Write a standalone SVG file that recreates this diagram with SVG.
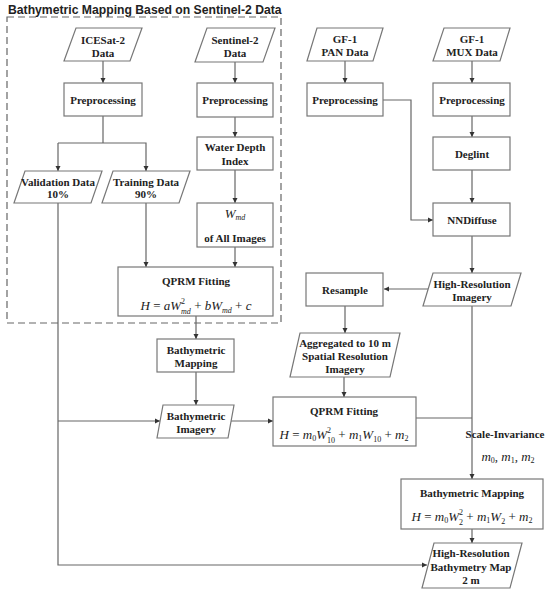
<svg xmlns="http://www.w3.org/2000/svg" width="550" height="593" viewBox="0 0 550 593">
<style>
.t{font-family:"Liberation Serif","Times New Roman",serif;font-weight:bold;font-size:11px;fill:#222;text-anchor:middle}
.m{font-family:"Liberation Serif","Times New Roman",serif;font-size:13px;fill:#222;text-anchor:middle}
.i{font-style:italic}
.b{fill:#fff;stroke:#777;stroke-width:1.2}
.c{fill:none;stroke:#666;stroke-width:1.2}
.title{font-family:"Liberation Sans",Arial,sans-serif;font-weight:bold;font-size:12.2px;fill:#222}
</style>
<defs>
<marker id="a" markerUnits="userSpaceOnUse" markerWidth="6" markerHeight="6" refX="5" refY="3" orient="auto">
<path d="M0,0.5 L5,3 L0,5.5 z" fill="#333"/>
</marker>
</defs>
<rect width="550" height="593" fill="#fff"/>
<text class="title" x="8" y="14">Bathymetric Mapping Based on Sentinel-2 Data</text>
<rect x="7" y="17" width="274" height="306" fill="none" stroke="#666" stroke-width="1.2" stroke-dasharray="7,4"/>

<g id="connectors">
<line class="c" x1="103" y1="61" x2="103" y2="83" marker-end="url(#a)"/>
<line class="c" x1="235" y1="62" x2="235" y2="83" marker-end="url(#a)"/>
<line class="c" x1="345" y1="61" x2="345" y2="83" marker-end="url(#a)"/>
<line class="c" x1="472" y1="61" x2="472" y2="83" marker-end="url(#a)"/>
<polyline class="c" points="103,116 103,143"/>
<polyline class="c" points="58,143 58,171" marker-end="url(#a)"/>
<polyline class="c" points="58,143 146,143 146,171" marker-end="url(#a)"/>
<line class="c" x1="235" y1="117" x2="235" y2="137" marker-end="url(#a)"/>
<line class="c" x1="235" y1="170" x2="235" y2="203" marker-end="url(#a)"/>
<line class="c" x1="235" y1="247" x2="235" y2="267" marker-end="url(#a)"/>
<line class="c" x1="146" y1="203" x2="146" y2="267" marker-end="url(#a)"/>
<line class="c" x1="196" y1="316" x2="196" y2="339" marker-end="url(#a)"/>
<line class="c" x1="196" y1="372" x2="196" y2="405" marker-end="url(#a)"/>
<polyline class="c" points="58,203 58,565 427,565" marker-end="url(#a)"/>
<line class="c" x1="58" y1="421" x2="160" y2="421" marker-end="url(#a)"/>
<line class="c" x1="231" y1="421" x2="273" y2="421" marker-end="url(#a)"/>
<line class="c" x1="472" y1="116" x2="472" y2="137" marker-end="url(#a)"/>
<line class="c" x1="472" y1="170" x2="472" y2="203" marker-end="url(#a)"/>
<polyline class="c" points="383,100 411,100 411,220 433,220" marker-end="url(#a)"/>
<line class="c" x1="472" y1="236" x2="472" y2="273" marker-end="url(#a)"/>
<line class="c" x1="428" y1="289" x2="384" y2="289" marker-end="url(#a)"/>
<line class="c" x1="345" y1="306" x2="345" y2="333" marker-end="url(#a)"/>
<line class="c" x1="344" y1="377" x2="344" y2="397" marker-end="url(#a)"/>
<line class="c" x1="472" y1="306" x2="472" y2="479" marker-end="url(#a)"/>
<line class="c" x1="416" y1="418" x2="472" y2="418"/>
<line class="c" x1="472" y1="529" x2="472" y2="543" marker-end="url(#a)"/>
<text class="t" x="505" y="438" font-size="10">Scale-Invariance</text>
<text class="m" x="508" y="461" font-size="11"><tspan class="i">m</tspan><tspan font-size="8" dy="2">0</tspan><tspan dy="-2">, </tspan><tspan class="i">m</tspan><tspan font-size="8" dy="2">1</tspan><tspan dy="-2">, </tspan><tspan class="i">m</tspan><tspan font-size="8" dy="2">2</tspan></text>
</g>

<g id="icesat">
<polygon class="b" points="76,28 142,28 130,61 64,61"/>
<text class="t" x="103" y="44">ICESat-2</text>
<text class="t" x="103" y="57">Data</text>
</g>
<g id="sentinel">
<polygon class="b" points="207,28 275,28 263,62 195,62"/>
<text class="t" x="235" y="44">Sentinel-2</text>
<text class="t" x="235" y="57">Data</text>
</g>
<g id="prep-icesat">
<rect class="b" x="64" y="83" width="78" height="33"/>
<text class="t" x="103" y="104">Preprocessing</text>
</g>
<g id="prep-sentinel">
<rect class="b" x="197" y="83" width="76" height="34"/>
<text class="t" x="235" y="104">Preprocessing</text>
</g>
<g id="wdi">
<rect class="b" x="197" y="137" width="76" height="33"/>
<text class="t" x="235" y="151">Water Depth</text>
<text class="t" x="235" y="165">Index</text>
</g>
<g id="validation">
<polygon class="b" points="25,171 102,171 91,203 14,203"/>
<text class="t" x="58" y="186">Validation Data</text>
<text class="t" x="58" y="198">10%</text>
</g>
<g id="training">
<polygon class="b" points="113,171 190,171 179,203 102,203"/>
<text class="t" x="146" y="186">Training Data</text>
<text class="t" x="146" y="198">90%</text>
</g>
<g id="wmd">
<rect class="b" x="197" y="203" width="76" height="44"/>
<text class="m" x="235" y="218" font-size="12"><tspan class="i">W</tspan><tspan class="i" font-size="8" dy="2">md</tspan></text>
<text class="t" x="235" y="242">of  All Images</text>
</g>
<g id="qprm1">
<rect class="b" x="118" y="267" width="155" height="49"/>
<text class="t" x="196" y="285">QPRM Fitting</text>
<text class="m" x="196" y="310"><tspan class="i">H</tspan> = <tspan class="i">aW</tspan><tspan font-size="8" dy="-6">2</tspan><tspan class="i" font-size="8" dx="-4" dy="10">md</tspan><tspan dy="-4"> + </tspan><tspan class="i">bW</tspan><tspan class="i" font-size="8" dy="3">md</tspan><tspan dy="-3"> + </tspan><tspan class="i">c</tspan></text>
</g>
<g id="bm1">
<rect class="b" x="157" y="339" width="77" height="33"/>
<text class="t" x="196" y="354">Bathymetric</text>
<text class="t" x="196" y="367">Mapping</text>
</g>
<g id="bi">
<polygon class="b" points="163,405 234,405 228,438 157,438"/>
<text class="t" x="196" y="420">Bathymetric</text>
<text class="t" x="196" y="433">Imagery</text>
</g>
<g id="pan">
<polygon class="b" points="317,28 383,28 373,61 307,61"/>
<text class="t" x="345" y="43">GF-1</text>
<text class="t" x="345" y="56">PAN Data</text>
</g>
<g id="mux">
<polygon class="b" points="444,28 510,28 500,61 433,61"/>
<text class="t" x="472" y="43">GF-1</text>
<text class="t" x="472" y="56">MUX Data</text>
</g>
<g id="prep-pan">
<rect class="b" x="307" y="83" width="76" height="33"/>
<text class="t" x="345" y="104">Preprocessing</text>
</g>
<g id="prep-mux">
<rect class="b" x="433" y="83" width="77" height="33"/>
<text class="t" x="472" y="104">Preprocessing</text>
</g>
<g id="deglint">
<rect class="b" x="433" y="137" width="77" height="33"/>
<text class="t" x="472" y="158">Deglint</text>
</g>
<g id="nnd">
<rect class="b" x="433" y="203" width="77" height="33"/>
<text class="t" x="472" y="224">NNDiffuse</text>
</g>
<g id="hri">
<polygon class="b" points="433,273 521,273 511,306 423,306"/>
<text class="t" x="472" y="288">High-Resolution</text>
<text class="t" x="472" y="301">Imagery</text>
</g>
<g id="resample">
<rect class="b" x="306" y="273" width="77" height="33"/>
<text class="t" x="345" y="294">Resample</text>
</g>
<g id="agg">
<polygon class="b" points="300,333 400,333 390,377 290,377"/>
<text class="t" x="345" y="347">Aggregated to 10 m</text>
<text class="t" x="345" y="360">Spatial Resolution</text>
<text class="t" x="345" y="373">Imagery</text>
</g>
<g id="qprm2">
<rect class="b" x="273" y="397" width="143" height="49"/>
<text class="t" x="344" y="415">QPRM Fitting</text>
<text class="m" x="344" y="439"><tspan class="i">H</tspan> = <tspan class="i">m</tspan><tspan font-size="8" dy="2">0</tspan><tspan class="i" dy="-2">W</tspan><tspan font-size="8" dy="-6">2</tspan><tspan font-size="8" dx="-4" dy="10">10</tspan><tspan dy="-4"> + </tspan><tspan class="i">m</tspan><tspan font-size="8" dy="2">1</tspan><tspan class="i" dy="-2">W</tspan><tspan font-size="8" dy="3">10</tspan><tspan dy="-3"> + </tspan><tspan class="i">m</tspan><tspan font-size="8" dy="2">2</tspan></text>
</g>
<g id="bm2">
<rect class="b" x="401" y="479" width="142" height="50"/>
<text class="t" x="472" y="497">Bathymetric Mapping</text>
<text class="m" x="472" y="521"><tspan class="i">H</tspan> = <tspan class="i">m</tspan><tspan font-size="8" dy="2">0</tspan><tspan class="i" dy="-2">W</tspan><tspan font-size="8" dy="-6">2</tspan><tspan font-size="8" dx="-4" dy="10">2</tspan><tspan dy="-4"> + </tspan><tspan class="i">m</tspan><tspan font-size="8" dy="2">1</tspan><tspan class="i" dy="-2">W</tspan><tspan font-size="8" dy="3">2</tspan><tspan dy="-3"> + </tspan><tspan class="i">m</tspan><tspan font-size="8" dy="2">2</tspan></text>
</g>
<g id="hrbm">
<polygon class="b" points="434,543 522,543 510,588 422,588"/>
<text class="t" x="471" y="557">High-Resolution</text>
<text class="t" x="471" y="571">Bathymetry Map</text>
<text class="t" x="471" y="584">2 m</text>
</g>
</svg>
